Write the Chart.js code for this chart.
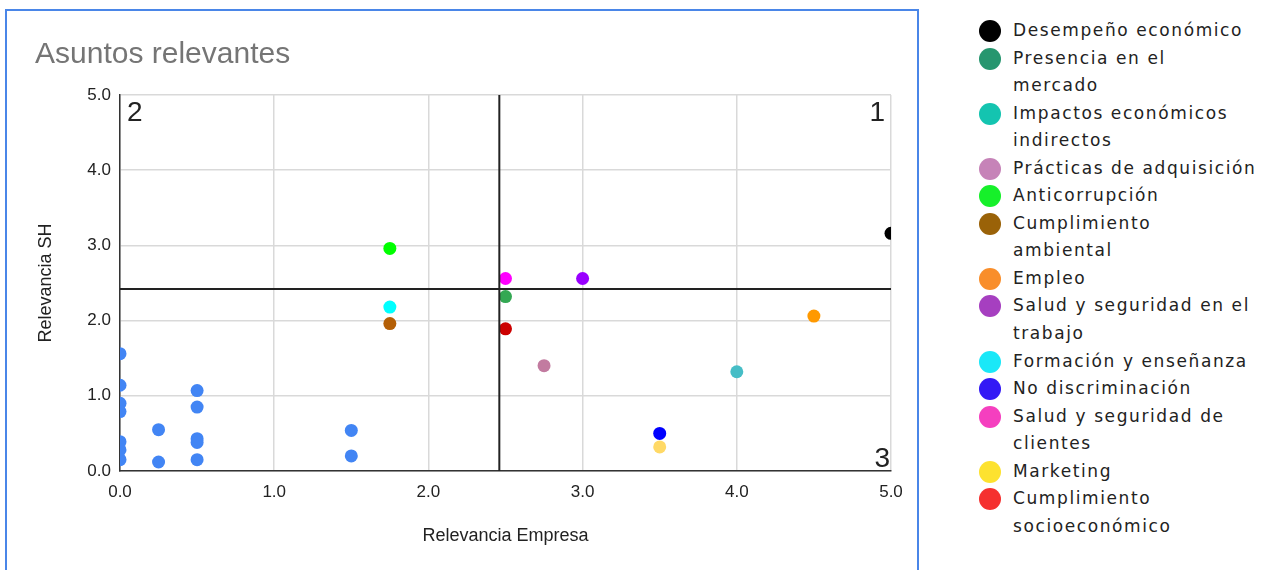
<!DOCTYPE html>
<html>
<head>
<meta charset="utf-8">
<script src="https://cdn.jsdelivr.net/npm/chart.js@4.4.1/dist/chart.umd.min.js"></script>
<style>
  html, body { margin: 0; padding: 0; background: #fff; }
  body { width: 1263px; height: 570px; position: relative; overflow: hidden; }
  #frame {
    position: absolute; left: 5px; top: 9px; width: 914px; height: 600px;
    border: 2px solid #4a86e8; box-sizing: border-box;
  }
  #wrap { position: absolute; left: 0; top: 0; width: 920px; height: 570px; }
  #legend {
    position: absolute; left: 978px; top: 17px; margin: 0; padding: 0; list-style: none;
    font-family: "DejaVu Sans", sans-serif; font-size: 17px; letter-spacing: 1.6px;
    color: #222; line-height: 27.55px;
  }
  #legend li { position: relative; padding-left: 35px; white-space: pre-line; }
  #legend li span {
    position: absolute; left: 1px; top: 3px; width: 22px; height: 22px; border-radius: 50%;
  }
</style>
</head>
<body>
<div id="frame"></div>
<div id="wrap"><canvas id="chart" width="920" height="570"></canvas></div>
<ul id="legend"></ul>
<script>
// topics (one dot each)
const topics = [
    "Desempeño económico",
    "Presencia  en el\nmercado",
    "Impactos económicos\nindirectos",
    "Prácticas de adquisición",
    "Anticorrupción",
    "Cumplimiento\nambiental",
    "Empleo",
    "Salud y seguridad en el\ntrabajo",
    "Formación y enseñanza",
    "No discriminación",
    "Salud y seguridad de\nclientes",
    "Marketing",
    "Cumplimiento\nsocioeconómico"
];
const topicX = [5.0, 2.5, 4.0, 2.75, 1.75, 1.75, 4.5, 3.0, 1.75, 3.5, 2.5, 3.5, 2.5];
const topicY = [3.16, 2.32, 1.32, 1.40, 2.96, 1.96, 2.06, 2.56, 2.18, 0.50, 2.56, 0.32, 1.89];
const dotColors = [
    "#000000", "#34a853", "#46bdc6", "#c27ba0", "#00ff00", "#b45f06", "#ff9900",
    "#9900ff", "#00ffff", "#0000ff", "#ff00ff", "#ffd966", "#cc0000"
];
const legendColors = [
    "#000000", "#26966f", "#14c4b0", "#c683b8", "#16f02a", "#9a6208", "#f98e2b",
    "#a63fc0", "#1ae8f8", "#3319f5", "#f53fbf", "#fde22f", "#f5302f"
];

// other topics (blue)
const otherX = [0, 0, 0, 0, 0, 0, 0, 0.25, 0.25, 0.5, 0.5, 0.5, 0.5, 0.5, 1.5, 1.5];
const otherY = [1.56, 1.14, 0.90, 0.79, 0.39, 0.28, 0.15, 0.55, 0.12, 1.07, 0.85, 0.43, 0.38, 0.15, 0.54, 0.20];

// quadrant cuts
const cutX = 2.46;
const cutY = 2.42;
const quadrantLabels = ["1", "2", "3"];

const axisTicks = [0, 1, 2, 3, 4, 5];

const font = "'Liberation Sans', Arial, sans-serif";

// html legend
const legend = document.getElementById("legend");
topics.forEach((t, i) => {
    const li = document.createElement("li");
    const dot = document.createElement("span");
    dot.style.background = legendColors[i];
    li.appendChild(dot);
    li.appendChild(document.createTextNode(t));
    legend.appendChild(li);
});

// quadrant numbers
const quadrantPlugin = {
    id: "quadrants",
    afterDatasetsDraw(chart) {
        const { ctx, chartArea: a } = chart;
        ctx.save();
        ctx.fillStyle = "#222";
        ctx.font = "28px " + font;
        ctx.textBaseline = "top";
        ctx.textAlign = "left";
        ctx.fillText(quadrantLabels[1], a.left + 7, a.top + 4);
        ctx.textAlign = "right";
        ctx.fillText(quadrantLabels[0], a.right - 6, a.top + 4);
        ctx.textBaseline = "alphabetic";
        ctx.fillText(quadrantLabels[2], a.right - 1, a.bottom - 4);
        ctx.restore();
    }
};

const fmt = v => Number(v).toFixed(1);

new Chart(document.getElementById("chart"), {
    type: "scatter",
    data: {
        datasets: [
            {
                label: "corte x",
                data: [{ x: cutX, y: axisTicks[0] }, { x: cutX, y: axisTicks[5] }],
                showLine: true,
                borderColor: "#222",
                borderWidth: 2,
                pointRadius: 0,
                clip: 0
            },
            {
                label: "corte y",
                data: [{ x: axisTicks[0], y: cutY }, { x: axisTicks[5], y: cutY }],
                showLine: true,
                borderColor: "#222",
                borderWidth: 2,
                pointRadius: 0,
                clip: 0
            },
            {
                label: "Asuntos",
                data: topicX.map((x, i) => ({ x: x, y: topicY[i] })),
                pointBackgroundColor: dotColors,
                pointBorderWidth: 0,
                pointRadius: 6.5,
                pointHoverRadius: 7,
                clip: 0
            },
            {
                label: "Otros",
                data: otherX.map((x, i) => ({ x: x, y: otherY[i] })),
                pointBackgroundColor: "#4285f4",
                pointBorderWidth: 0,
                pointRadius: 6.5,
                pointHoverRadius: 7,
                clip: 0
            }
        ]
    },
    options: {
        responsive: false,
        animation: false,
        layout: {
            padding: { left: 35, right: 29, top: 0, bottom: 0 }
        },
        plugins: {
            legend: { display: false },
            title: {
                display: true,
                text: "Asuntos relevantes",
                align: "start",
                color: "#757575",
                font: { family: font, size: 30, weight: "normal", lineHeight: 1.2 },
                padding: { top: 37, bottom: 22 }
            }
        },
        scales: {
            x: {
                type: "linear",
                min: 0,
                max: 5,
                afterFit: s => { s.height = 99; },
                ticks: {
                    stepSize: 1,
                    padding: 11,
                    color: "#222",
                    font: { family: font, size: 17 },
                    callback: fmt
                },
                grid: { color: "#d9d9d9", lineWidth: 1.5, drawTicks: false },
                border: { color: "#333", width: 1.5 },
                title: {
                    display: true,
                    text: "Relevancia Empresa",
                    color: "#222",
                    font: { family: font, size: 18, lineHeight: 1 },
                    padding: { top: 0, bottom: 25 }
                }
            },
            y: {
                type: "linear",
                min: 0,
                max: 5,
                afterFit: s => { s.width = 85; },
                ticks: {
                    stepSize: 1,
                    padding: 9,
                    color: "#222",
                    font: { family: font, size: 17 },
                    callback: fmt
                },
                grid: { color: "#d9d9d9", lineWidth: 1.5, drawTicks: false },
                border: { color: "#333", width: 1.5 },
                title: {
                    display: true,
                    text: "Relevancia SH",
                    color: "#222",
                    font: { family: font, size: 18, lineHeight: 1 },
                    padding: { top: 2, bottom: 0 }
                }
            }
        }
    },
    plugins: [quadrantPlugin]
});
</script>
</body>
</html>
